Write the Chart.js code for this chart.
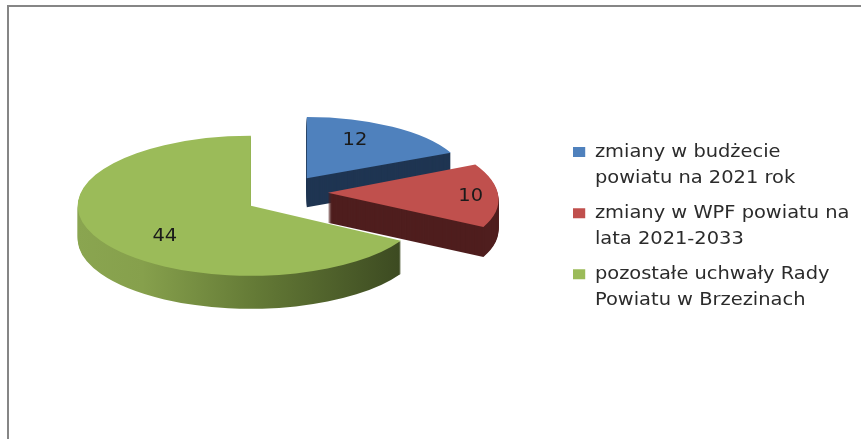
<!DOCTYPE html>
<html>
<head>
<meta charset="utf-8">
<style>
    html, body { margin: 0; padding: 0; background: #fff; overflow: hidden; }
    #wrap { position: relative; width: 861px; height: 439px; }
    #frame { position: absolute; left: 7px; top: 5px; right: 0; bottom: 0; border-top: 2px solid #868686; border-left: 2px solid #868686; }
</style>
</head>
<body>
<div id="wrap">
    <div id="frame"></div>
    <canvas id="myPieChart" width="861" height="439" style="position:absolute;left:0;top:0"></canvas>
</div>
<script src="https://cdn.jsdelivr.net/npm/chart.js@4"></script>
<script>
var categories = [
    ['zmiany w budżecie', 'powiatu na 2021 rok'],
    ['zmiany w WPF powiatu na', 'lata 2021-2033'],
    ['pozostałe uchwały Rady', 'Powiatu w Brzezinach']
];
var values = [12, 10, 44];
var topColors = ['#4f81bd', '#c0504d', '#9bbb59'];
var sideColors = ['#1f3552', '#4f1e1e', null];

var pieRadius = 175;
var pieExplode = 44;
var pieCenter = { x: 284, y: 192 };
var textStretch = 1.11; // the original picture is a bit wider than tall

// the flattened look of each slice, roughly following the perspective of the original
var sliceView = [
    { sx: 0.905, sy: 0.35, skew: 0, nudgeX: -1, nudgeY: 1, depth: 29, labelAt: 0.55, labelX: 1, labelY: -9 },
    { sx: 0.97, sy: 0.39, skew: 0.1, nudgeX: 0, nudgeY: 0, depth: 30, labelAt: 0.82, labelX: 3, labelY: 1 },
    { sx: 0.99, sy: 0.4, skew: 0, nudgeX: 5, nudgeY: 5, depth: 33, labelAt: 0.56, labelX: -2, labelY: 11 }
];

function applySliceTransform(ctx, el, i) {
    var v = sliceView[i];
    var mid = (el.startAngle + el.endAngle) / 2;
    var ox = Math.cos(mid) * pieExplode;
    var oy = Math.sin(mid) * pieExplode;
    ctx.translate(pieCenter.x + ox + v.nudgeX, pieCenter.y + oy * 0.4 + v.nudgeY);
    ctx.scale(v.sx, v.sy);
    ctx.transform(1, 0, v.skew, 1, 0, 0);
    ctx.translate(-el.x, -el.y);
}

var pie3d = {
    id: 'pie3d',
    afterLayout: function(chart) {
        // stretch the legend sideways, keeping its left edge in place
        var legend = chart.legend;
        if (legend.stretched) return;
        legend.stretched = true;
        var drawLegend = legend.draw;
        legend.draw = function() {
            var ctx = chart.ctx;
            ctx.save();
            ctx.translate(legend.left, 0);
            ctx.scale(textStretch, 1);
            ctx.translate(-legend.left, 0);
            drawLegend.call(legend);
            ctx.restore();
        };
    },
    beforeDatasetsDraw: function(chart) {
        var ctx = chart.ctx;
        var arcs = chart.getDatasetMeta(0).data;
        arcs.forEach(function(el, i) {
            var base = el.options;
            var side = sideColors[i];
            if (!side) {
                side = ctx.createLinearGradient(el.x - pieRadius, 0, el.x + pieRadius * 0.87, 0);
                side.addColorStop(0, '#8aa550');
                side.addColorStop(0.2, '#86a04c');
                side.addColorStop(0.55, '#647a36');
                side.addColorStop(1, '#3c4a21');
            }
            var sideOptions = Object.create(base);
            sideOptions.backgroundColor = side;
            el.options = sideOptions;
            for (var d = sliceView[i].depth; d > 0; d--) {
                ctx.save();
                ctx.translate(0, d);
                applySliceTransform(ctx, el, i);
                el.draw(ctx);
                ctx.restore();
            }
            el.options = base;
            ctx.save();
            applySliceTransform(ctx, el, i);
            el.draw(ctx);
            ctx.restore();
        });
        return false;
    },
    afterDraw: function(chart) {
        var ctx = chart.ctx;
        chart.getDatasetMeta(0).data.forEach(function(el, i) {
            var v = sliceView[i];
            var mid = (el.startAngle + el.endAngle) / 2;
            var r = pieRadius * v.labelAt;
            ctx.save();
            applySliceTransform(ctx, el, i);
            var m = ctx.getTransform();
            ctx.restore();
            var p = m.transformPoint(new DOMPoint(el.x + Math.cos(mid) * r, el.y + Math.sin(mid) * r));
            ctx.save();
            ctx.translate(p.x + v.labelX, p.y + v.labelY);
            ctx.scale(textStretch, 1);
            ctx.font = '17.5px "DejaVu Sans"';
            ctx.fillStyle = '#1a1a1a';
            ctx.textAlign = 'center';
            ctx.textBaseline = 'middle';
            ctx.fillText(String(values[i]), 0, 0);
            ctx.restore();
        });
    }
};

var ctxPie = document.getElementById('myPieChart').getContext('2d');
var myPieChart = new Chart(ctxPie, {
    type: 'pie',
    data: {
        labels: categories,
        datasets: [{
            data: values,
            backgroundColor: topColors,
            borderWidth: 0,
            radius: pieRadius
        }]
    },
    options: {
        responsive: false,
        animation: false,
        layout: { padding: { right: 30, top: 22 } },
        plugins: {
            tooltip: { enabled: false },
            legend: {
                position: 'right',
                labels: {
                    boxWidth: 11,
                    boxHeight: 10,
                    padding: 9,
                    color: '#2b2b2b',
                    font: { family: '"DejaVu Sans"', size: 17.5, lineHeight: 1.49 }
                }
            }
        }
    },
    plugins: [pie3d]
});
</script>
</body>
</html>
